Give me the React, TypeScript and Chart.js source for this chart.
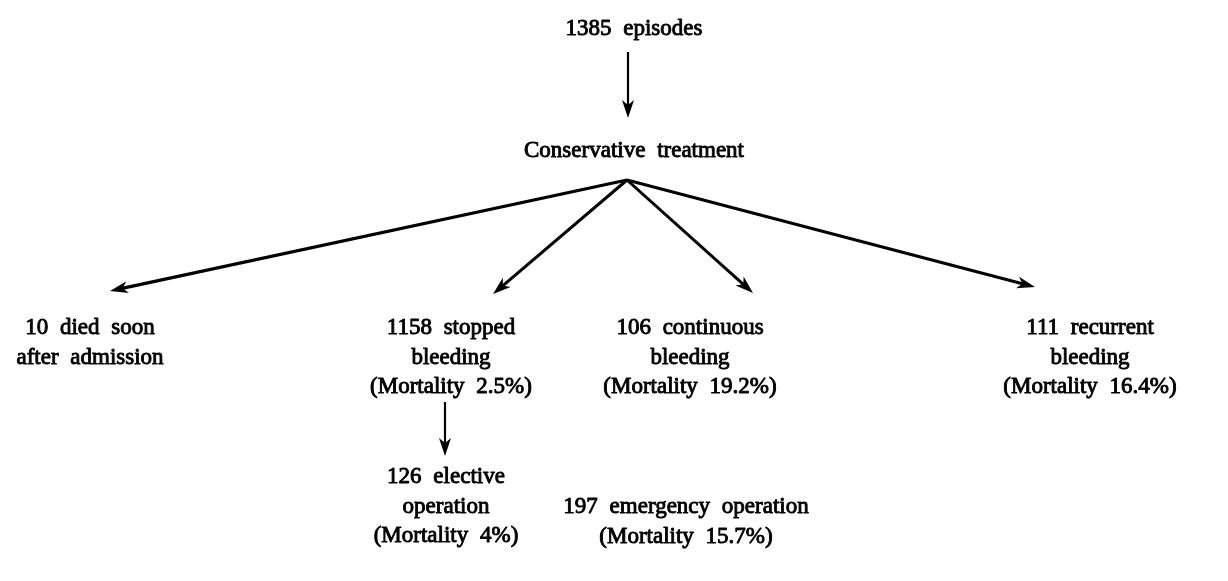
import React, { useEffect, useRef } from "react";
import { Chart, registerables } from "chart.js";

Chart.register(...registerables);

// Flowchart nodes (text blocks) in page-pixel data space
const nodeLines: string[][] = [
  ["1385 episodes"],
  ["Conservative treatment"],
  ["10 died soon", "after admission"],
  ["1158 stopped", "bleeding", "(Mortality 2.5%)"],
  ["106 continuous", "bleeding", "(Mortality 19.2%)"],
  ["111 recurrent", "bleeding", "(Mortality 16.4%)"],
  ["126 elective", "operation", "(Mortality 4%)"],
  ["197 emergency operation", "(Mortality 15.7%)"],
];
const nodeX = [634, 634, 90, 451, 690, 1090, 446, 686];
const nodeY = [29, 151, 328, 328, 328, 328, 477, 507];
const lineGap = 29.5;

// Arrows: start and tip
const arrowFromX = [628, 627, 627, 627, 627, 445];
const arrowFromY = [52, 180, 180, 180, 180, 402];
const arrowToX = [628, 110, 493, 753, 1035, 445];
const arrowToY = [118, 291, 294, 293, 287, 456];
const arrowWidth = [2.2, 3.2, 3, 3, 3, 2.2];

const W = 1228;
const H = 581;

const flowPlugin = {
  id: "flowText",
  afterDatasetsDraw(chart: any) {
    const ctx = chart.ctx as CanvasRenderingContext2D;
    const xs = chart.scales.x;
    const ys = chart.scales.y;
    ctx.save();
    // arrowheads
    for (let i = 0; i < arrowToX.length; i++) {
      const x0 = xs.getPixelForValue(arrowFromX[i]);
      const y0 = ys.getPixelForValue(arrowFromY[i]);
      const x1 = xs.getPixelForValue(arrowToX[i]);
      const y1 = ys.getPixelForValue(arrowToY[i]);
      const ang = Math.atan2(y1 - y0, x1 - x0);
      const len = 18;
      const half = 6;
      const bx = x1 - len * Math.cos(ang);
      const by = y1 - len * Math.sin(ang);
      const nx = -Math.sin(ang);
      const ny = Math.cos(ang);
      ctx.beginPath();
      ctx.moveTo(x1, y1);
      ctx.lineTo(bx + nx * half, by + ny * half);
      ctx.lineTo(x1 - (len - 5) * Math.cos(ang), y1 - (len - 5) * Math.sin(ang));
      ctx.lineTo(bx - nx * half, by - ny * half);
      ctx.closePath();
      ctx.fillStyle = "#000";
      ctx.fill();
    }
    // text
    ctx.font = '23px "Liberation Serif", "DejaVu Serif", serif';
    (ctx as any).wordSpacing = "6px";
    ctx.textAlign = "center";
    ctx.textBaseline = "middle";
    ctx.fillStyle = "#000";
    ctx.strokeStyle = "#000";
    ctx.lineWidth = 0.9;
    ctx.lineJoin = "round";
    for (let i = 0; i < nodeLines.length; i++) {
      const cx = xs.getPixelForValue(nodeX[i]);
      nodeLines[i].forEach((t, j) => {
        const cy = ys.getPixelForValue(nodeY[i] + j * lineGap);
        ctx.fillText(t, cx, cy);
        ctx.strokeText(t, cx, cy);
      });
    }
    ctx.restore();
  },
};

export default function App() {
  const ref = useRef<HTMLCanvasElement | null>(null);
  useEffect(() => {
    document.body.style.margin = "0";
    const canvas = ref.current;
    if (!canvas) return;
    const datasets = arrowToX.map((_, i) => {
      // stop the shaft just inside the arrowhead
      const dx = arrowToX[i] - arrowFromX[i];
      const dy = arrowToY[i] - arrowFromY[i];
      const d = Math.hypot(dx, dy);
      return {
        type: "line" as const,
        data: [
          { x: arrowFromX[i], y: arrowFromY[i] },
          { x: arrowToX[i] - (dx / d) * 10, y: arrowToY[i] - (dy / d) * 10 },
        ],
        borderColor: "#000",
        borderWidth: arrowWidth[i],
        pointRadius: 0,
        fill: false,
        tension: 0,
        clip: false as any,
      };
    });
    const chart = new Chart(canvas, {
      type: "scatter",
      data: { datasets: datasets as any },
      options: {
        animation: false,
        responsive: false,
        devicePixelRatio: 1,
        layout: { padding: 0 },
        plugins: { legend: { display: false }, tooltip: { enabled: false } },
        events: [],
        scales: {
          x: { type: "linear", min: 0, max: W, display: false },
          y: { type: "linear", min: 0, max: H, reverse: true, display: false },
        },
      },
      plugins: [flowPlugin],
    });
    return () => chart.destroy();
  }, []);
  return (
    <div style={{ position: "absolute", left: 0, top: 0, width: W, height: H, background: "#fff" }}>
      <canvas ref={ref} width={W} height={H} style={{ display: "block" }} />
    </div>
  );
}
